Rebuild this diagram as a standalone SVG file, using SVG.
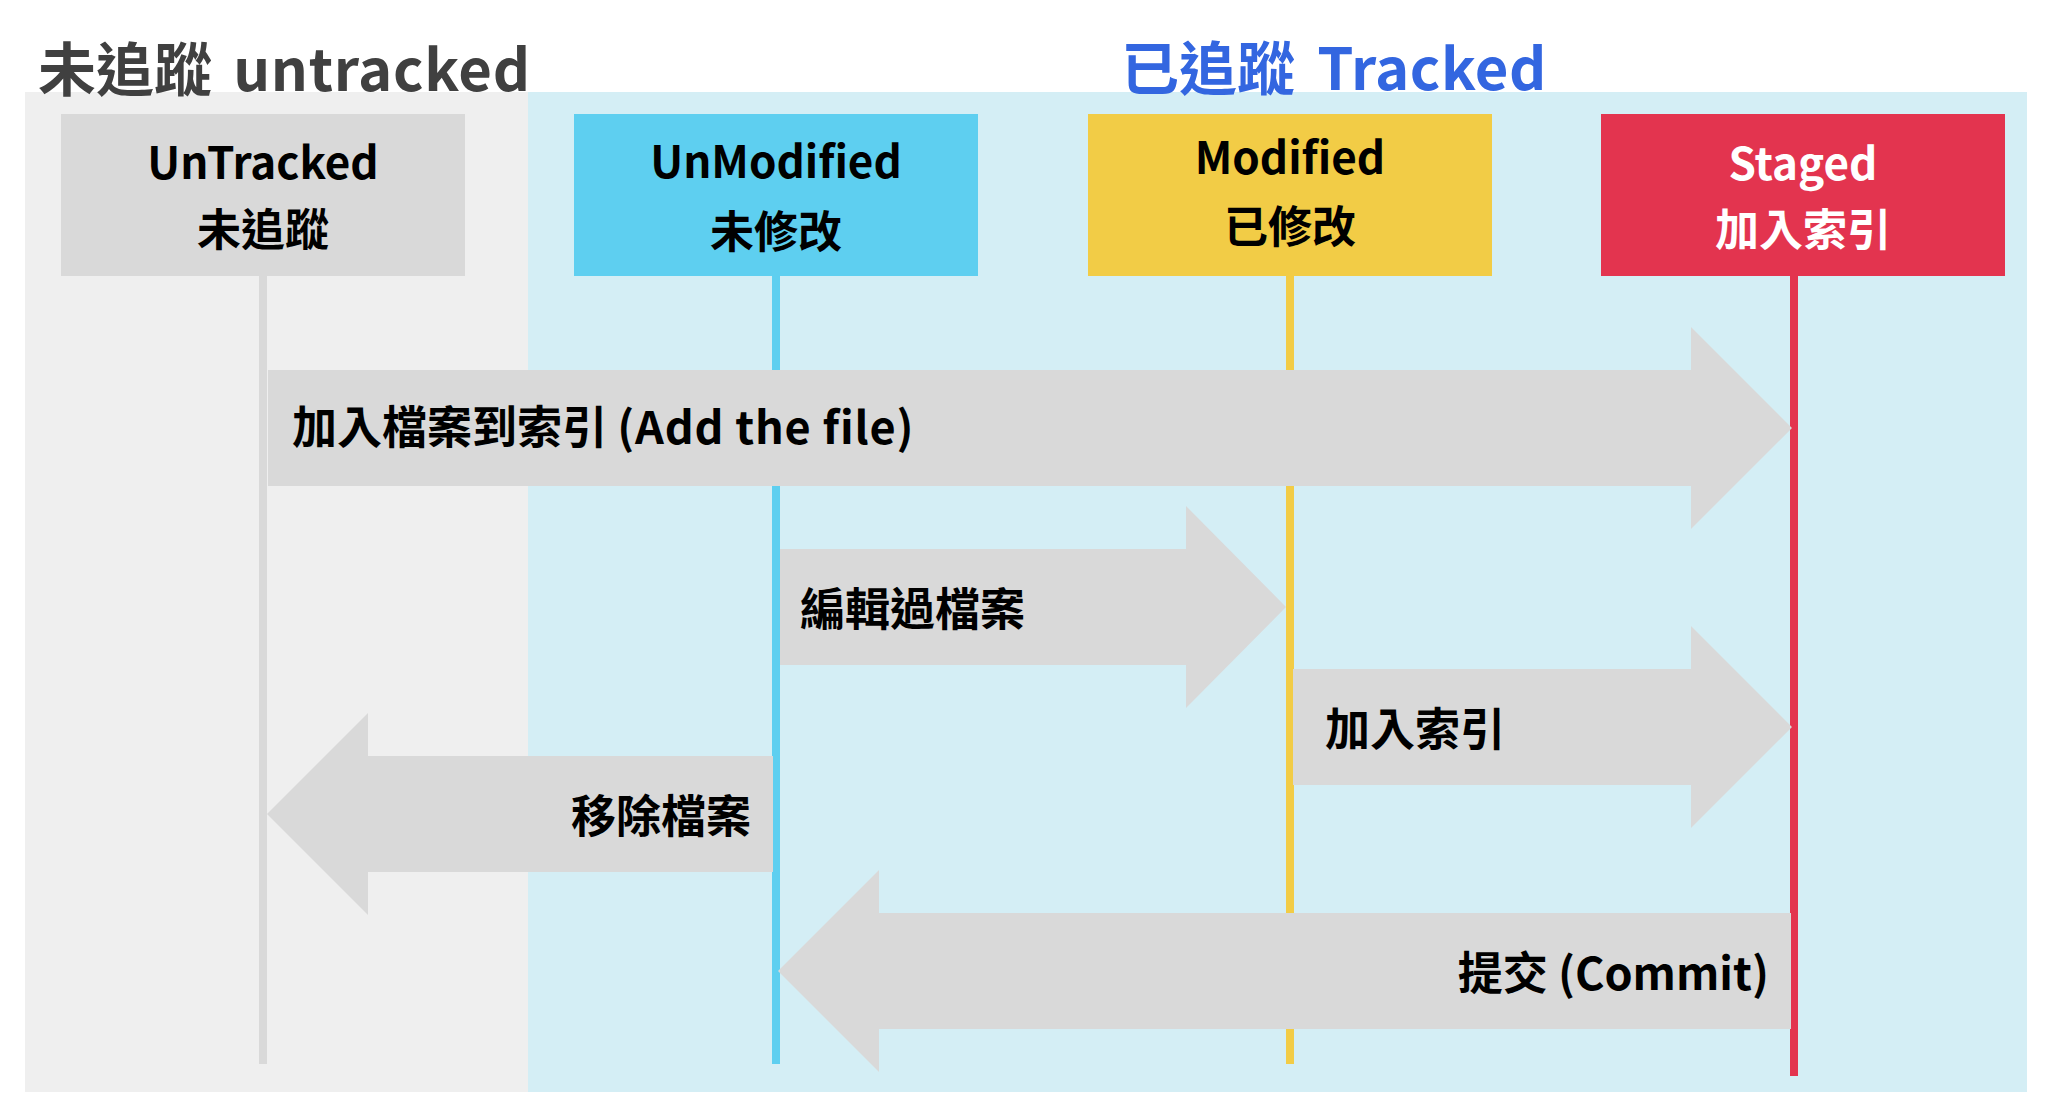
<svg xmlns="http://www.w3.org/2000/svg" width="2070" height="1118" viewBox="0 0 2070 1118">
<style>
text{font-family:"Noto Sans CJK TC","Noto Sans",sans-serif;font-weight:700}
.title{font-size:58px;font-weight:600}
.node{font-size:44px;text-anchor:middle;font-weight:600}
.lbl{font-size:45px;fill:#000}
.arrow{fill:#d9d9d9}
.life{stroke-width:8;fill:none}
</style>
<rect x="0" y="0" width="2070" height="1118" fill="#ffffff"/>
<g id="region-untracked">
<rect x="25" y="92" width="503" height="1000" fill="#efefef"/>
<text class="title" x="38" y="91" fill="#404040">未追蹤 <tspan dx="8" letter-spacing="0.7">untracked</tspan></text>
</g>
<g id="region-tracked">
<rect x="528" y="92" width="1499" height="1000" fill="#d4eef5"/>
<text class="title" x="1121" y="90" fill="#3366e0">已追蹤 <tspan dx="9" letter-spacing="0.5">Tracked</tspan></text>
</g>
<g id="lifelines">
<line class="life" x1="263" y1="276" x2="263" y2="1064" stroke="#d9d9d9"/>
<line class="life" x1="776" y1="276" x2="776" y2="1064" stroke="#5ecff0"/>
<line class="life" x1="1290" y1="276" x2="1290" y2="1064" stroke="#f2cc46"/>
<line class="life" x1="1794" y1="276" x2="1794" y2="1076" stroke="#e3344f"/>
</g>
<g id="node-untracked">
<rect x="61" y="114" width="404" height="162" fill="#d9d9d9"/>
<text class="node" x="263" y="179" fill="#000">UnTracked</text>
<text class="node" x="263" y="246" fill="#000">未追蹤</text>
</g>
<g id="node-unmodified">
<rect x="574" y="114" width="404" height="162" fill="#5ecff0"/>
<text class="node" x="776" y="178" fill="#000">UnModified</text>
<text class="node" x="776" y="248" fill="#000">未修改</text>
</g>
<g id="node-modified">
<rect x="1088" y="114" width="404" height="162" fill="#f2cc46"/>
<text class="node" x="1290" y="174" fill="#000">Modified</text>
<text class="node" x="1290" y="243" fill="#000">已修改</text>
</g>
<g id="node-staged">
<rect x="1601" y="114" width="404" height="162" fill="#e3344f"/>
<text class="node" x="1803" y="180" fill="#fff">Staged</text>
<text class="node" x="1803" y="246" fill="#fff">加入索引</text>
</g>
<g id="connectors">
<g id="arrow-add-file">
<polygon class="arrow" points="268,370 1691,370 1691,327 1792,428 1691,529 1691,486 268,486"/>
<text class="lbl" x="292" y="444">加入檔案到索引 <tspan letter-spacing="0.8">(Add the file)</tspan></text>
</g>
<g id="arrow-edit">
<polygon class="arrow" points="780,549 1186,549 1186,506 1286,607 1186,708 1186,665 780,665"/>
<text class="lbl" x="800" y="626">編輯過檔案</text>
</g>
<g id="arrow-stage">
<polygon class="arrow" points="1293,669 1691,669 1691,626 1792,727 1691,828 1691,785 1293,785"/>
<text class="lbl" x="1325" y="746">加入索引</text>
</g>
<g id="arrow-remove">
<polygon class="arrow" points="773,756 368,756 368,713 267,814 368,915 368,872 773,872"/>
<text class="lbl" x="751" y="833" text-anchor="end">移除檔案</text>
</g>
<g id="arrow-commit">
<polygon class="arrow" points="1791,913 879,913 879,870 778,971 879,1072 879,1029 1791,1029"/>
<text class="lbl" x="1769" y="990" text-anchor="end">提交 (Commit)</text>
</g>
</g>
</svg>
